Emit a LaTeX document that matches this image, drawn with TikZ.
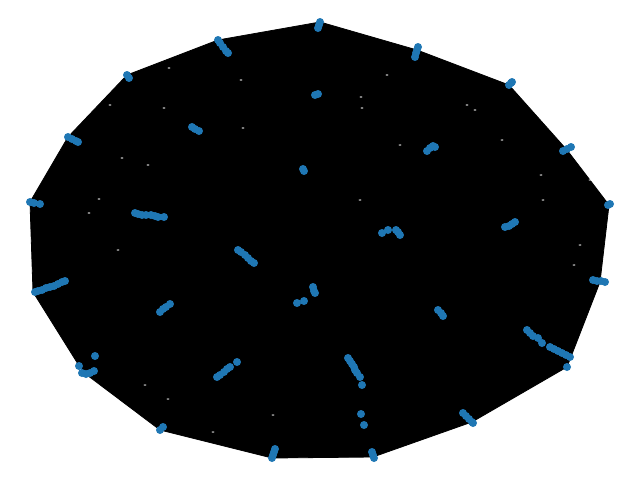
\documentclass[tikz,border=0pt]{standalone}
\definecolor{tabblue}{HTML}{1F77B4}
\tikzset{dot/.style={fill=tabblue}, hull/.style={fill=black,draw=black,line width=0.8pt,line join=round}}
\begin{document}
\begin{tikzpicture}[x=1pt,y=-1pt]
\useasboundingbox (0,0) rectangle (640,480);
\path[hull] (320,22) -- (417,50) -- (509,85) -- (567,150) -- (609,205) -- (600,282) -- (567,367) -- (472,422) -- (373,457) -- (272,458) -- (160,430) -- (83,372) -- (33,292) -- (30,202) -- (68,137) -- (127,75) -- (218,40) -- cycle;
% faint white gaps
\foreach \x/\y in {169/68,110/105,164/108,243/128,122/158,148/165,99/199,89/213,241/80,361/97,362/108,387/75,467/105,475/110,502/140,541/175,543/200,574/265,400/145,145/385,360/200,590/180,580/245,118/250,213/432,273/415,168/399}
  \fill[white] (\x,\y) ellipse (1.6 and 0.6);
\foreach \x/\y in {318/28,319/25,320/22,
 218/40,220/43,223/47,226/51,228/53,
 127/75,129/78,
 315/95,318/94,
 192/127,195/129,199/131,
 303/169,304/171,
 68/137,72/139,76/141,78/142,
 30/202,34/203,40/204,
 135/213,138/214,142/215,146/215,151/215,155/216,158/217,164/217,
 415/57,416/53,417/50,418/47,
 509/85,511/83,512/82,
 427/151,430/148,433/146,435/147,
 563/151,567/149,571/147,
 608/205,610/204,
 505/227,509/226,512/224,515/222,
 382/233,388/230,396/230,398/232,400/235,
 35/292,38/291,42/290,46/288,50/287,54/286,58/284,62/282,65/281,
 238/250,241/252,245/255,248/258,251/261,254/263,
 313/287,314/291,315/293,297/303,304/301,
 160/312,163/309,166/307,170/304,
 95/356,79/366,82/373,86/374,90/373,94/371,
 237/362,217/377,220/375,224/372,227/369,230/367,
 160/430,163/427,
 272/458,273/455,274/452,275/449,
 593/280,597/281,601/281,605/282,
 438/310,441/313,443/316,
 527/330,530/333,533/336,538/338,542/343,
 550/347,554/349,558/351,562/353,566/355,570/357,
 567/367,
 348/358,350/361,352/364,354/367,355/370,357/373,360/377,362/385,
 361/414,364/425,
 463/413,466/416,469/419,472/422,473/423,
 372/452,373/455,374/458}
  \fill[dot] (\x,\y) circle (4);
\end{tikzpicture}
\end{document}
